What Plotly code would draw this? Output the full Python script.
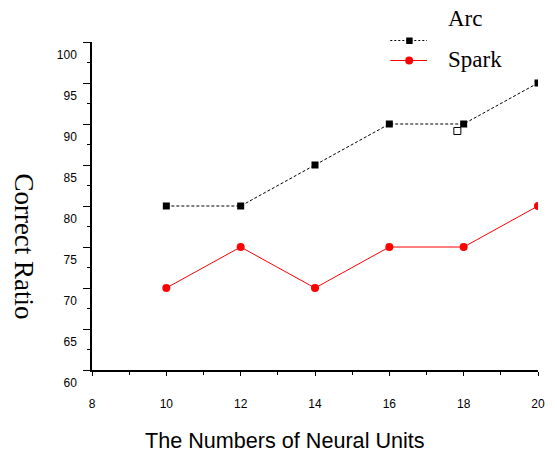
import plotly.graph_objects as go

units = [10, 12, 14, 16, 18, 20]
arc = [80, 80, 85, 90, 90, 95]
spark = [70, 75, 70, 75, 75, 80]
stray_x = [17.83]
stray_y = [89.15]
y_ticks = [60, 65, 70, 75, 80, 85, 90, 95, 100]
x_ticks = [8, 10, 12, 14, 16, 18, 20]

fig = go.Figure()
fig.add_trace(go.Scatter(x=units, y=arc, mode="lines+markers", name="Arc",
                         line=dict(color="black", width=1, dash="3px,2px"),
                         marker=dict(symbol="square", size=7, color="black"),
                         showlegend=False))
fig.add_trace(go.Scatter(x=stray_x, y=stray_y, mode="markers",
                         marker=dict(symbol="square-open", size=7, color="black", line=dict(width=1)),
                         showlegend=False))
fig.add_trace(go.Scatter(x=units, y=spark, mode="lines+markers", name="Spark",
                         line=dict(color="red", width=1),
                         marker=dict(symbol="circle", size=8, color="red"),
                         showlegend=False))

OFF = 8  # page body margin
W, H = 557 - OFF, 455 - OFF
ml, mt = 92 - OFF, 42 - OFF
mr = W - (542 - OFF)
mb = H - (370 - OFF)
pw, ph = W - ml - mr, H - mt - mb

def px(x):
    return (x - OFF - ml) / pw

def py(y):
    return (H - mb - (y - OFF)) / ph

# manual legend
fig.add_shape(type="line", xref="paper", yref="paper", x0=px(393), x1=px(430), y0=py(40.5), y1=py(40.5),
              line=dict(color="black", width=1, dash="2px,2px"))
fig.add_shape(type="rect", xref="paper", yref="paper", x0=px(409), x1=px(415.5), y0=py(37.5), y1=py(44),
              line=dict(width=0), fillcolor="black")
fig.add_shape(type="line", xref="paper", yref="paper", x0=px(393), x1=px(430), y0=py(60.5), y1=py(60.5),
              line=dict(color="red", width=1))
fig.add_shape(type="circle", xref="paper", yref="paper", x0=px(408), x1=px(416), y0=py(56.5), y1=py(64.5),
              line=dict(width=0), fillcolor="red")
fig.add_annotation(text="Arc", xref="paper", yref="paper", x=px(449), y=py(18.5), xanchor="left", yanchor="middle",
                   showarrow=False, font=dict(family="Liberation Serif", size=23, color="black"))
fig.add_annotation(text="Spark", xref="paper", yref="paper", x=px(449), y=py(59), xanchor="left", yanchor="middle",
                   showarrow=False, font=dict(family="Liberation Serif", size=23, color="black"))

# axis titles
fig.add_annotation(text="The Numbers of Neural Units", xref="paper", yref="paper", x=px(287), y=py(440),
                   xanchor="center", yanchor="middle", showarrow=False,
                   font=dict(family="Liberation Sans", size=21.6, color="black"))
fig.add_annotation(text="Correct Ratio", xref="paper", yref="paper", x=px(23), y=py(246), xanchor="center",
                   yanchor="middle", textangle=90, showarrow=False,
                   font=dict(family="Liberation Serif", size=27, color="black"))

fig.update_xaxes(range=[8, 20], tickvals=x_ticks, ticktext=[str(v) for v in x_ticks],
                 showgrid=False, zeroline=False, showline=True, linecolor="black", linewidth=1.5,
                 ticks="outside", ticklen=4, tickwidth=1, tickcolor="black",
                 minor=dict(dtick=1, tick0=8, ticks="outside", ticklen=3, tickcolor="black", showgrid=False),
                 ticklabelstandoff=18,
                 tickfont=dict(family="Liberation Sans", size=12, color="black"))
fig.update_yaxes(range=[60, 100], tickvals=y_ticks, ticktext=[str(v) for v in y_ticks],
                 showgrid=False, zeroline=False, showline=True, linecolor="black", linewidth=1.5,
                 ticks="outside", ticklen=7, tickwidth=1, tickcolor="black",
                 minor=dict(dtick=2.5, tick0=60, ticks="outside", ticklen=3, tickcolor="black", showgrid=False),
                 ticklabelshift=13, ticklabelstandoff=4,
                 tickfont=dict(family="Liberation Sans", size=12, color="black"))

fig.update_layout(width=W, height=H, margin=dict(l=ml, r=mr, t=mt, b=mb),
                  plot_bgcolor="white", paper_bgcolor="white", showlegend=False)

fig.write_html("out.html")
